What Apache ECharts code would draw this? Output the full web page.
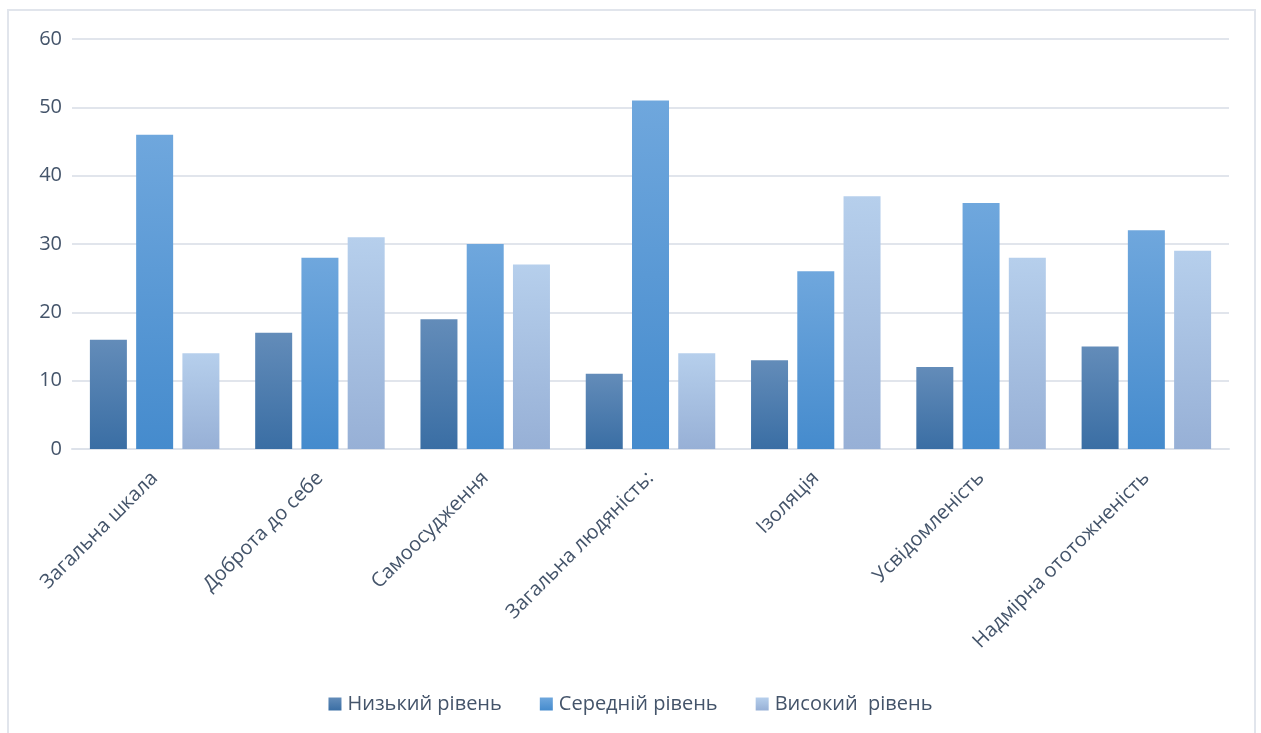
<!DOCTYPE html>
<html>
<head>
<meta charset="utf-8">
<script src="https://cdn.jsdelivr.net/npm/echarts@6/dist/echarts.min.js"></script>
<style>
  html, body { margin: 0; padding: 0; background: #fff; }
  #frame {
    position: absolute; left: 7px; top: 9px; width: 1249px; height: 740px;
    border: 2px solid #e1e5ec; box-sizing: border-box;
  }
  #chart { position: absolute; left: 0; top: 0; width: 1261px; height: 733px; }
</style>
</head>
<body>
<div id="frame"></div>
<div id="chart"></div>
<script>
const categories = [
  'Загальна шкала',
  'Доброта до себе',
  'Самоосудження',
  'Загальна людяність:',
  'Ізоляція',
  'Усвідомленість',
  'Надмірна ототожненість'
]
const lowLevel = [16, 17, 19, 11, 13, 12, 15]
const midLevel = [46, 28, 30, 51, 26, 36, 32]
const highLevel = [14, 31, 27, 14, 37, 28, 29]
const seriesNames = ['Низький рівень', 'Середній рівень', 'Високий  рівень']

const grad = (top, bottom) => new echarts.graphic.LinearGradient(0, 0, 0, 1, [
  { offset: 0, color: top },
  { offset: 1, color: bottom }
])

const textColor = '#44546a'
const font = '"Open Sans", "Noto Sans", sans-serif'

const chart = echarts.init(document.getElementById('chart'))

chart.setOption({
  animation: false,
  grid: { left: 72, right: 32, top: 39, bottom: 284, containLabel: false },
  legend: {
    bottom: 14,
    left: 'center',
    itemWidth: 13,
    itemHeight: 13,
    itemGap: 38,
    icon: 'rect',
    textStyle: { color: textColor, fontSize: 20, fontFamily: font, padding: [0, 0, 0, 1] },
    data: seriesNames
  },
  xAxis: {
    type: 'category',
    data: categories,
    axisLine: { lineStyle: { color: '#dde2ea', width: 2 } },
    axisTick: { show: false },
    axisLabel: {
      rotate: 45,
      interval: 0,
      margin: 26,
      color: textColor,
      fontSize: 20,
      fontFamily: font
    }
  },
  yAxis: {
    type: 'value',
    min: 0,
    max: 60,
    interval: 10,
    axisLine: { show: false },
    axisTick: { show: false },
    splitLine: { lineStyle: { color: '#e1e5ec', width: 2 } },
    axisLabel: { color: textColor, fontSize: 20, fontFamily: font, margin: 10 }
  },
  series: [
    {
      name: seriesNames[0],
      type: 'bar',
      data: lowLevel,
      barWidth: 37,
      barGap: '25%',
      itemStyle: { color: grad('#638cb9', '#3a6ea4') }
    },
    {
      name: seriesNames[1],
      type: 'bar',
      data: midLevel,
      barWidth: 37,
      barGap: '25%',
      itemStyle: { color: grad('#6fa7dd', '#458bcd') }
    },
    {
      name: seriesNames[2],
      type: 'bar',
      data: highLevel,
      barWidth: 37,
      barGap: '25%',
      itemStyle: { color: grad('#b6cfec', '#97b0d6') }
    }
  ]
})
</script>
</body>
</html>
